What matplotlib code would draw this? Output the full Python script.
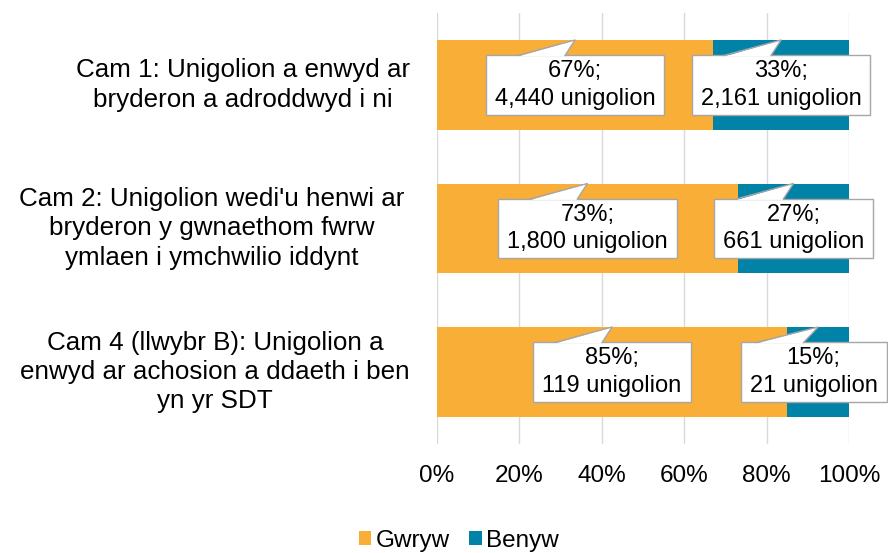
import matplotlib
matplotlib.use('Agg')
import matplotlib.pyplot as plt
from matplotlib.patches import Rectangle, Polygon, Patch
from matplotlib.lines import Line2D
from matplotlib.transforms import IdentityTransform, blended_transform_factory

categories = ["Cam 1: Unigolion a enwyd ar\nbryderon a adroddwyd i ni",
              "Cam 2: Unigolion wedi'u henwi ar\nbryderon y gwnaethom fwrw\nymlaen i ymchwilio iddynt",
              "Cam 4 (llwybr B): Unigolion a\nenwyd ar achosion a ddaeth i ben\nyn yr SDT"]
series_names = ["Gwryw", "Benyw"]
gwryw_pct = [67, 73, 85]
benyw_pct = [33, 27, 15]
gwryw_n = ["4,440", "1,800", "119"]
benyw_n = ["2,161", "661", "21"]
xtick_vals = [0, 20, 40, 60, 80, 100]
xtick_labels = ["0%", "20%", "40%", "60%", "80%", "100%"]

ORANGE = "#F9AE37"
BLUE = "#0083A7"
GRID = "#D9D9D9"
BORDER = "#A6A6A6"
FS = 17
FS_CAT = 18.7
FS_TICK = 17.5

plt.rcParams['font.family'] = ['Liberation Sans', 'DejaVu Sans']

W, H = 888, 553
fig = plt.figure(figsize=(W / 100, H / 100), dpi=100)
ax = fig.add_axes([437 / W, (H - 443.75) / H, 412 / W, 430.5 / H])

n = len(categories)
ypos = [n - 1 - i for i in range(n)]
bh = 0.627
ax.barh(ypos, gwryw_pct, height=bh, color=ORANGE, zorder=2, label=series_names[0])
ax.barh(ypos, benyw_pct, left=gwryw_pct, height=bh, color=BLUE, zorder=2, label=series_names[1])

ax.set_xlim(0, 100)
ax.set_ylim(-0.5, n - 0.5)
ax.set_xticks(xtick_vals)
ax.set_xticklabels(xtick_labels, fontsize=FS_TICK)
ax.set_yticks([])
ax.tick_params(axis='x', length=0, pad=15)
for s in ax.spines.values():
    s.set_visible(False)
ax.grid(axis='x', color=GRID, linewidth=1, zorder=0)
ax.set_axisbelow(True)

tr = blended_transform_factory(fig.transFigure, ax.transData)
label_cx = [243, 212, 215]
for y, lab, cxp in zip(ypos, categories, label_cx):
    ax.text(cxp / W, y, lab, transform=tr, ha='center', va='center',
            multialignment='center', fontsize=FS_CAT, linespacing=1.27, color='black')

# data labels
texts = []
for i, y in enumerate(ypos):
    g_c = gwryw_pct[i] / 2
    b_c = gwryw_pct[i] + benyw_pct[i] / 2
    t1 = ax.text(g_c, y, f"{gwryw_pct[i]}%;\n{gwryw_n[i]} unigolion", ha='center', va='center',
                 fontsize=FS, linespacing=1.3, zorder=6)
    t2 = ax.text(b_c, y, f"{benyw_pct[i]}%;\n{benyw_n[i]} unigolion", ha='center', va='center',
                 fontsize=FS, linespacing=1.3, zorder=6)
    texts.append((t1, g_c, y))
    texts.append((t2, b_c, y))

fig.canvas.draw()
renderer = fig.canvas.get_renderer()
padx, pady = 9, 5
for t, xc, y in texts:
    bb = t.get_window_extent(renderer)
    x0, x1 = bb.x0 - padx, bb.x1 + padx
    y0, y1 = bb.y0 - pady, bb.y1 + pady
    shift = 0
    if x1 > W - 1.5:
        shift = (W - 1.5) - x1
    x0 += shift
    x1 += shift
    if shift:
        t.set_position(ax.transData.inverted().transform((bb.x0 + bb.width / 2 + shift, (bb.y0 + bb.y1) / 2)))
        t.set_va('center')
    cx = (x0 + x1) / 2
    tipx, tipy = ax.transData.transform((xc, y + bh / 2))
    b1 = cx - 57
    b2 = cx - 10
    rect = Rectangle((x0, y0), x1 - x0, y1 - y0, transform=IdentityTransform(),
                     facecolor='white', edgecolor=BORDER, linewidth=1, zorder=4)
    fig.add_artist(rect)
    poly = Polygon([(b1 + 0.5, y1 - 1), (tipx, tipy), (b2 - 0.5, y1 - 1)], closed=True,
                   transform=IdentityTransform(), facecolor='white', edgecolor='none', zorder=5)
    fig.add_artist(poly)
    fig.add_artist(Line2D([b1, tipx, b2], [y1, tipy, y1], transform=IdentityTransform(),
                          color=BORDER, linewidth=1, zorder=5))
    t.set_zorder(7)
    t.remove()
    fig.add_artist(t)

handles = [Patch(facecolor=ORANGE), Patch(facecolor=BLUE)]
fig.legend(handles, series_names, loc='center', bbox_to_anchor=(459 / W, 1 - 541 / H),
           ncol=2, frameon=False, fontsize=FS_TICK, handlelength=0.5, handleheight=0.5,
           handletextpad=0.2, columnspacing=0.8, borderaxespad=0)

fig.savefig('out.png', dpi=100)
